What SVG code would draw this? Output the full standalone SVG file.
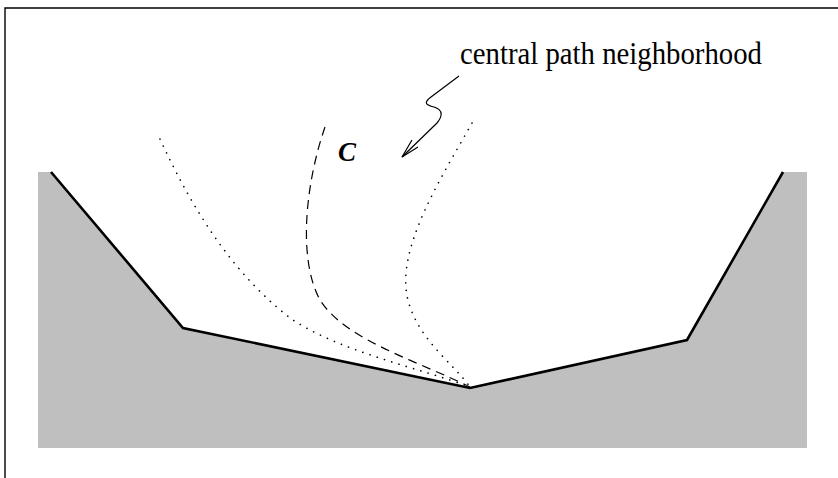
<svg xmlns="http://www.w3.org/2000/svg" width="838" height="478" viewBox="0 0 838 478">
<style>
.lbl{font-family:"Liberation Serif","Times New Roman",serif;fill:#000}
.dot{fill:none;stroke:#000;stroke-width:1.6;stroke-linecap:round;stroke-dasharray:0.1 7.5}
.dash{fill:none;stroke:#000;stroke-width:1.2;stroke-dasharray:9 6}
</style>
<rect width="838" height="478" fill="#fff"/>
<g id="frame" stroke="#000" stroke-width="1.4" fill="none">
<path d="M5,478 L5,8 L838,8"/>
</g>
<g id="region">
<polygon points="38,172 51,172 183,328 470,388 687,340 783,172 807,172 807,448 38,448" fill="#bfbfbf"/>
<polyline points="51,172 183,328 470,388 687,340 783,172" fill="none" stroke="#000" stroke-width="2.6" stroke-linejoin="miter"/>
</g>
<g id="paths">
<path class="dot" d="M160,139 C195,215 235,275 290,318 C340,352 420,368 470,387"/>
<path class="dash" d="M325,127 C305,185 298,260 320,300 C345,340 420,362 470,387"/>
<path class="dot" d="M472,123 C440,180 395,250 408,300 C418,340 455,365 470,387"/>
</g>
<g id="label-C">
<text class="lbl" x="338" y="161" font-size="27" font-weight="bold" font-style="italic">C</text>
</g>
<g id="label-neighborhood">
<text class="lbl" x="460" y="64" font-size="31" textLength="302" lengthAdjust="spacingAndGlyphs">central path neighborhood</text>
</g>
<g id="connectors" fill="none" stroke="#000" stroke-width="1.2">
<path d="M459,76 L431,97 C423,103 426,105 434,107 C444,110 442,117 437,123 L402,157"/>
<path d="M412,140 L402,157 L418,147"/>
</g>
</svg>
